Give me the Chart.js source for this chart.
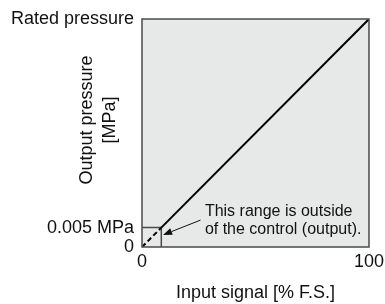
<!DOCTYPE html>
<html>
<head>
<meta charset="utf-8">
<script src="https://cdn.jsdelivr.net/npm/chart.js@4"></script>
<style>
    html, body { margin: 0; padding: 0; background: #fff; }
    canvas { display: block; }
</style>
</head>
<body>
<canvas id="myChart" width="385" height="304"></canvas>
<script>
// --- Data ---
const deadBand = 8.5;                       // end of the uncontrolled range (0.005 MPa)
const lowX = [0, deadBand];                 // dashed part, input signal [% F.S.]
const lowY = [0, deadBand];                 // dashed part, output pressure [% of rated]
const mainX = [deadBand, 100];              // controlled part
const mainY = [deadBand, 100];
const boxX = [0, deadBand, deadBand];       // outline of the uncontrolled range
const boxY = [deadBand, deadBand, 0];
const xTickValues = [0, 100];
const xTickLabels = ['0', '100'];
const yTickValues = [0, deadBand, 100];
const yTickLabels = ['0', '0.005 MPa', 'Rated pressure'];
const yTitleLines = ['Output pressure', '[MPa]'];
const xTitle = 'Input signal [% F.S.]';
const noteLines = ['This range is outside', 'of the control (output).'];
const notePos = { x: 27.7, y: 15.4 };       // data coords of first note line
const arrowFrom = { x: 25.8, y: 11.8 };
const arrowTo = { x: 9.3, y: 5.3 };

const FONT = '"Liberation Sans", Arial, Helvetica, sans-serif';
const ctx = document.getElementById('myChart').getContext('2d');

const toPoints = (xs, ys) => xs.map((x, i) => ({ x: x, y: ys[i] }));

// plot background, frame, arrow, note and rotated y title
const decorations = {
    id: 'decorations',
    beforeDatasetsDraw(chart) {
        const { ctx, chartArea: a } = chart;
        ctx.save();
        ctx.fillStyle = '#e7e8e8';
        ctx.fillRect(a.left, a.top, a.right - a.left, a.bottom - a.top);
        ctx.restore();
    },
    afterDatasetsDraw(chart) {
        const { ctx, chartArea: a } = chart;
        const xs = chart.scales.x, ys = chart.scales.y;
        ctx.save();
        ctx.strokeStyle = '#4a4a4a';
        ctx.lineWidth = 1.5;
        ctx.strokeRect(a.left, a.top, a.right - a.left, a.bottom - a.top);

        // arrow
        const x1 = xs.getPixelForValue(arrowFrom.x), y1 = ys.getPixelForValue(arrowFrom.y);
        const x2 = xs.getPixelForValue(arrowTo.x), y2 = ys.getPixelForValue(arrowTo.y);
        const ang = Math.atan2(y2 - y1, x2 - x1);
        const head = 9, half = 3.5;
        ctx.strokeStyle = '#111';
        ctx.lineWidth = 1;
        ctx.beginPath();
        ctx.moveTo(x1, y1);
        ctx.lineTo(x2 - Math.cos(ang) * head, y2 - Math.sin(ang) * head);
        ctx.stroke();
        ctx.fillStyle = '#111';
        ctx.beginPath();
        ctx.moveTo(x2, y2);
        ctx.lineTo(x2 - Math.cos(ang) * head - Math.sin(ang) * half, y2 - Math.sin(ang) * head + Math.cos(ang) * half);
        ctx.lineTo(x2 - Math.cos(ang) * head + Math.sin(ang) * half, y2 - Math.sin(ang) * head - Math.cos(ang) * half);
        ctx.closePath();
        ctx.fill();

        // note
        ctx.font = '16px ' + FONT;
        ctx.textAlign = 'left';
        ctx.textBaseline = 'middle';
        const nx = xs.getPixelForValue(notePos.x), ny = ys.getPixelForValue(notePos.y);
        noteLines.forEach((line, i) => ctx.fillText(line, nx, ny + i * 18));

        // y axis title (two lines, rotated)
        ctx.font = '18px ' + FONT;
        ctx.textAlign = 'center';
        ctx.translate(87, 120);
        ctx.rotate(-Math.PI / 2);
        yTitleLines.forEach((line, i) => ctx.fillText(line, 0, i * 23));
        ctx.restore();
    }
};

new Chart(ctx, {
    type: 'scatter',
    data: {
        datasets: [
            {
                data: toPoints(lowX, lowY),
                showLine: true,
                borderColor: '#000',
                borderWidth: 2,
                borderDash: [5, 3],
                pointRadius: 0
            },
            {
                data: toPoints(mainX, mainY),
                showLine: true,
                borderColor: '#000',
                borderWidth: 2,
                pointRadius: 0
            },
            {
                data: toPoints(boxX, boxY),
                showLine: true,
                borderColor: '#4a4a4a',
                borderWidth: 1.5,
                pointRadius: 0
            }
        ]
    },
    options: {
        responsive: false,
        animation: false,
        devicePixelRatio: 1,
        layout: { padding: { left: 0, right: 16, top: 19, bottom: 0 } },
        plugins: { legend: { display: false }, tooltip: { enabled: false } },
        scales: {
            x: {
                type: 'linear',
                min: 0,
                max: 100,
                grid: { display: false, drawTicks: false },
                border: { display: false },
                afterBuildTicks: scale => { scale.ticks = xTickValues.map(v => ({ value: v })); },
                afterFit: scale => {
                    scale.height = 57;
                    scale.paddingLeft = 0;
                    scale.paddingRight = 0;
                },
                ticks: {
                    padding: 4,
                    maxRotation: 0,
                    color: '#111',
                    font: { family: FONT, size: 18 },
                    callback: v => xTickLabels[xTickValues.indexOf(v)]
                },
                title: {
                    display: true,
                    text: xTitle,
                    color: '#111',
                    font: { family: FONT, size: 18 },
                    padding: { top: 4, bottom: 0 }
                }
            },
            y: {
                type: 'linear',
                min: 0,
                max: 100,
                grid: { display: false, drawTicks: false },
                border: { display: false },
                afterBuildTicks: scale => { scale.ticks = yTickValues.map(v => ({ value: v })); },
                afterFit: scale => {
                    scale.width = 142;
                    scale.paddingTop = 0;
                    scale.paddingBottom = 0;
                },
                ticks: {
                    padding: 8,
                    autoSkip: false,
                    color: '#111',
                    font: { family: FONT, size: 18 },
                    callback: v => yTickLabels[yTickValues.indexOf(v)]
                }
            }
        }
    },
    plugins: [decorations]
});
</script>
</body>
</html>
